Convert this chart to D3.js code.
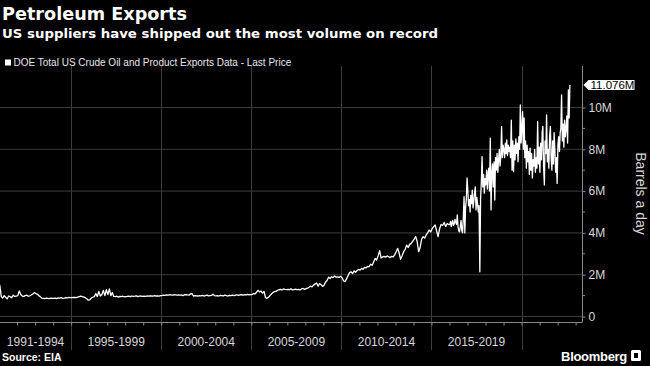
<!DOCTYPE html>
<html><head><meta charset="utf-8">
<script src="https://cdn.jsdelivr.net/npm/d3@7"></script>
<style>
html,body{margin:0;padding:0;background:#000;}
svg{display:block;}
text{font-family:"Liberation Sans",Arial,sans-serif;}
</style></head>
<body>
<script>
// ---------------- DATA ----------------
const title = "Petroleum Exports";
const subtitle = "US suppliers have shipped out the most volume on record";
const legendLabel = "DOE Total US Crude Oil and Product Exports Data - Last Price";
const sourceLabel = "Source: EIA";
const yAxisTitle = "Barrels a day";
const lastValueLabel = "11.076M";

// period labels along the bottom axis and their starting years
const periodLabels = ["1991-1994","1995-1999","2000-2004","2005-2009","2010-2014","2015-2019"];
const periodStartYears = [1991,1995,2000,2005,2010,2015,2020];
const yTickValues = [0,2,4,6,8,10];            // millions of barrels a day
const yTickLabels = ["0","2M","4M","6M","8M","10M"];

// Monthly values (million b/d), Jan 1991 .. Dec 2015, one row per year
const monthlyExports1991to2015 = [
  1.52,0.95,0.88,1.00,0.92,0.85,0.98,0.95,0.90,1.02,0.96,0.97, // 1991
  1.00,1.22,1.05,0.98,0.96,1.00,1.02,0.97,0.99,1.03,1.08,1.14, // 1992
  1.10,1.06,1.00,0.95,0.88,0.87,0.86,0.88,0.87,0.86,0.88,0.87, // 1993
  0.87,0.88,0.86,0.89,0.88,0.90,0.87,0.88,0.90,0.89,0.91,0.90, // 1994
  0.90,0.91,0.92,0.90,0.93,0.95,0.97,0.95,0.93,0.90,0.85,0.78, // 1995
  0.80,0.88,0.92,0.95,1.10,0.95,1.20,0.98,1.05,1.25,1.00,1.28, // 1996
  1.05,1.32,1.00,1.15,0.96,0.95,0.97,0.93,0.96,0.95,0.97,0.94, // 1997
  0.95,0.96,0.97,0.95,0.98,0.96,0.97,0.99,0.95,0.97,0.98,0.96, // 1998
  0.97,0.96,0.98,0.97,0.99,0.98,0.97,1.00,0.98,0.99,0.97,1.00, // 1999
  1.00,1.02,1.01,1.03,1.02,1.04,1.03,1.02,1.04,1.03,1.02,1.03, // 2000
  1.02,1.03,1.00,1.04,1.05,1.03,1.02,1.08,1.10,0.98,1.00,0.99, // 2001
  0.98,1.00,0.99,1.01,0.98,1.00,1.02,0.99,1.00,1.01,1.07,1.00, // 2002
  0.99,1.00,0.98,1.01,1.00,0.99,1.02,1.00,0.98,1.01,1.00,1.02, // 2003
  1.00,1.02,1.04,1.01,1.03,1.05,1.02,1.04,1.03,1.06,1.04,1.05, // 2004
  1.05,1.10,1.08,1.15,1.25,1.18,1.22,1.12,1.20,0.90,0.87,0.92, // 2005
  1.00,1.08,1.15,1.19,1.20,1.25,1.28,1.30,1.27,1.32,1.30,1.29, // 2006
  1.30,1.28,1.33,1.27,1.29,1.31,1.28,1.30,1.27,1.32,1.34,1.30, // 2007
  1.33,1.36,1.40,1.45,1.42,1.50,1.55,1.60,1.45,1.58,1.52,1.44, // 2008
  1.50,1.65,1.72,1.88,1.82,1.90,1.86,1.94,1.88,1.90,1.87,1.92, // 2009
  1.85,1.70,1.67,1.80,1.95,2.10,2.14,2.05,2.18,2.12,2.20,2.25, // 2010
  2.22,2.30,2.26,2.35,2.32,2.40,2.38,2.50,2.45,2.60,2.78,2.70, // 2011
  2.90,3.15,2.80,2.85,2.88,2.84,2.90,2.86,2.82,2.88,2.85,2.95, // 2012
  3.10,3.26,3.05,2.74,2.90,3.10,3.20,3.42,3.30,3.45,3.50,3.60, // 2013
  3.70,3.82,3.60,3.10,3.30,3.70,3.82,3.75,3.90,4.00,4.14,4.05, // 2014
  4.20,4.30,4.38,4.10,3.82,4.20,4.40,4.35,4.50,4.30,4.45,4.40  // 2015
];

// Semi-monthly values (million b/d), Jan 2016 .. Sep 2022, one row per year
const semiMonthlyExports2016to2022 = [
  4.40,4.55,4.30,4.50,4.60,4.35,4.45,4.65,4.50,4.40,4.86,4.30,4.10,4.05,4.30,4.60,4.10,4.00,4.70,5.73,4.00,5.20,5.60,6.63, // 2016
  6.00,5.30,5.60,5.00,5.80,5.40,6.05,5.20,5.50,5.90,6.20,5.10,5.70,5.40,5.00,5.30,2.14,5.60,6.40,7.65,6.20,6.80,5.90,6.60, // 2017
  6.30,7.00,6.10,6.90,7.10,6.00,8.53,5.10,6.80,7.30,6.20,7.40,5.57,7.60,7.00,7.80,6.90,7.50,8.00,7.20,7.70,9.08,7.60,8.20, // 2018
  8.00,7.60,8.30,7.80,8.45,7.70,8.20,7.90,8.10,7.60,9.40,7.00,8.40,6.93,8.20,7.50,8.50,7.80,8.30,7.40,8.60,8.00,10.12,8.30, // 2019
  9.00,9.80,8.00,9.50,7.60,8.40,7.10,8.20,7.40,7.90,6.80,8.06,7.00,7.80,6.63,7.50,7.20,8.00,6.90,7.60,7.10,9.32,7.30,8.10, // 2020
  6.90,8.30,7.50,8.80,9.10,7.20,6.29,8.40,7.80,9.64,7.40,8.00,7.10,8.60,9.10,7.60,7.00,8.40,7.30,8.80,7.90,6.90,7.60,6.37, // 2021
  8.20,8.60,7.90,8.80,9.00,10.60,8.40,9.20,8.10,9.40,8.60,9.00,9.60,8.30,10.84,9.50,11.076                                   // 2022
];

// ---------------- BUILD SERIES ----------------
const series = [];
monthlyExports1991to2015.forEach((v, i) => {
  series.push({date: new Date(1991, i, 15), value: v});
});
semiMonthlyExports2016to2022.forEach((v, j) => {
  series.push({date: new Date(2016, Math.floor(j / 2), j % 2 ? 22 : 7), value: v});
});

// ---------------- LAYOUT ----------------
const W = 650, H = 366;
const plot = {left: 0, right: 582, top: 66, bottom: 316.5, axisY: 322.5};

const svg = d3.select("body").append("svg").attr("width", W).attr("height", H);
svg.append("rect").attr("width", W).attr("height", H).attr("fill", "#000");

const x = d3.scaleTime()
  .domain([new Date(1991, 0, 20), new Date(2023, 4, 10)])
  .range([plot.left, plot.right]);
const y = d3.scaleLinear().domain([0, 10]).range([plot.bottom, 107.5]);

// horizontal gridlines
svg.append("g").selectAll("line").data(yTickValues).join("line")
  .attr("x1", plot.left).attr("x2", plot.right)
  .attr("y1", d => y(d)).attr("y2", d => y(d))
  .attr("stroke", "#3c3c3c").attr("stroke-width", 1);

// vertical period separators
const boundaryYears = periodStartYears.slice(1);
svg.append("g").selectAll("line").data(boundaryYears).join("line")
  .attr("x1", d => Math.round(x(new Date(d, 0, 1))) + 0.5)
  .attr("x2", d => Math.round(x(new Date(d, 0, 1))) + 0.5)
  .attr("y1", plot.top).attr("y2", 350)
  .attr("stroke", "#3c3c3c").attr("stroke-width", 1);

// bottom axis with yearly ticks
const xAxis = d3.axisBottom(x)
  .ticks(d3.timeYear.every(1))
  .tickSize(3)
  .tickFormat("");
const gx = svg.append("g").attr("transform", `translate(0,${plot.axisY})`).call(xAxis);
gx.select(".domain").attr("stroke", "#8a8a8a").attr("d", `M${plot.left},0H${plot.right}`);
gx.selectAll(".tick line").attr("stroke", "#8a8a8a");

// period labels centred in each span
svg.append("g").selectAll("text").data(periodLabels).join("text")
  .attr("x", (d, i) => {
    const a = Math.max(plot.left, x(new Date(periodStartYears[i], 0, 1)));
    const b = x(new Date(periodStartYears[i + 1], 0, 1));
    return (a + b) / 2;
  })
  .attr("y", 346)
  .attr("text-anchor", "middle")
  .attr("fill", "#d8d8d8")
  .attr("font-size", 12)
  .text(d => d);

// right axis
const yAxis = d3.axisRight(y).tickValues(yTickValues)
  .tickSize(3).tickPadding(3)
  .tickFormat((d, i) => yTickLabels[i]);
const gy = svg.append("g").attr("transform", `translate(${plot.right + 0.5},0)`).call(yAxis);
gy.select(".domain").attr("stroke", "#8a8a8a").attr("d", `M0,${plot.top}V${plot.axisY}`);
gy.selectAll(".tick line").attr("stroke", "#8a8a8a");
gy.selectAll(".tick text").attr("fill", "#d8d8d8").attr("font-size", 12)
  .attr("font-family", '"Liberation Sans",Arial,sans-serif');
// minor ticks at odd millions
svg.append("g").selectAll("line").data(d3.range(1, 11, 2)).join("line")
  .attr("x1", plot.right + 0.5).attr("x2", plot.right + 3)
  .attr("y1", d => y(d)).attr("y2", d => y(d))
  .attr("stroke", "#8a8a8a");

// data line
svg.append("defs").append("clipPath").attr("id", "clip")
  .append("rect").attr("x", plot.left).attr("y", plot.top)
  .attr("width", plot.right - plot.left).attr("height", plot.axisY - plot.top);
const line = d3.line().x(d => x(d.date)).y(d => y(d.value));
svg.append("path").datum(series)
  .attr("clip-path", "url(#clip)")
  .attr("fill", "none").attr("stroke", "#fff")
  .attr("stroke-width", 1.3).attr("stroke-linejoin", "round")
  .attr("d", line);

// last value label
const last = series[series.length - 1];
const ly = y(last.value);
const lx = plot.right + 1.5;
const lg = svg.append("g");
lg.append("path")
  .attr("d", `M${lx},${ly} L${lx + 5},${ly - 5} H${lx + 51} V${ly + 5} H${lx + 5} Z`)
  .attr("fill", "#fff");
lg.append("text").attr("x", lx + 7).attr("y", ly + 4)
  .attr("fill", "#000").attr("font-size", 11.5).text(lastValueLabel);

// y axis title
svg.append("text")
  .attr("transform", `translate(636,193.5) rotate(90)`)
  .attr("text-anchor", "middle")
  .attr("fill", "#d8d8d8").attr("font-size", 14)
  .text(yAxisTitle);

// titles
svg.append("text").attr("x", 2).attr("y", 20)
  .attr("fill", "#fff").attr("font-size", 17.5).attr("font-weight", "bold")
  .style("font-family", '"DejaVu Sans",sans-serif')
  .attr("textLength", 185).attr("lengthAdjust", "spacingAndGlyphs")
  .text(title);
svg.append("text").attr("x", 2).attr("y", 38)
  .attr("fill", "#fff").attr("font-size", 13).attr("font-weight", "bold")
  .style("font-family", '"DejaVu Sans",sans-serif')
  .attr("textLength", 436).attr("lengthAdjust", "spacingAndGlyphs")
  .text(subtitle);

// legend
svg.append("rect").attr("x", 5).attr("y", 59.5).attr("width", 6).attr("height", 6).attr("fill", "#fff");
svg.append("text").attr("x", 13.5).attr("y", 65.5)
  .attr("fill", "#e8e8e8").attr("font-size", 10).text(legendLabel);

// source
svg.append("text").attr("x", 2).attr("y", 361)
  .attr("fill", "#fff").attr("font-size", 10.5).attr("font-weight", "bold")
  .text(sourceLabel);

// Bloomberg wordmark
svg.append("text").attr("x", 627).attr("y", 361)
  .attr("text-anchor", "end")
  .attr("fill", "#fff").attr("font-size", 13).attr("font-weight", "bold")
  .attr("letter-spacing", -0.3)
  .text("Bloomberg");
svg.append("rect").attr("x", 631).attr("y", 350).attr("width", 10).attr("height", 11)
  .attr("rx", 1.5).attr("fill", "#fff");
svg.append("rect").attr("x", 634).attr("y", 353).attr("width", 4).attr("height", 5)
  .attr("fill", "#000");
</script>
</body></html>
